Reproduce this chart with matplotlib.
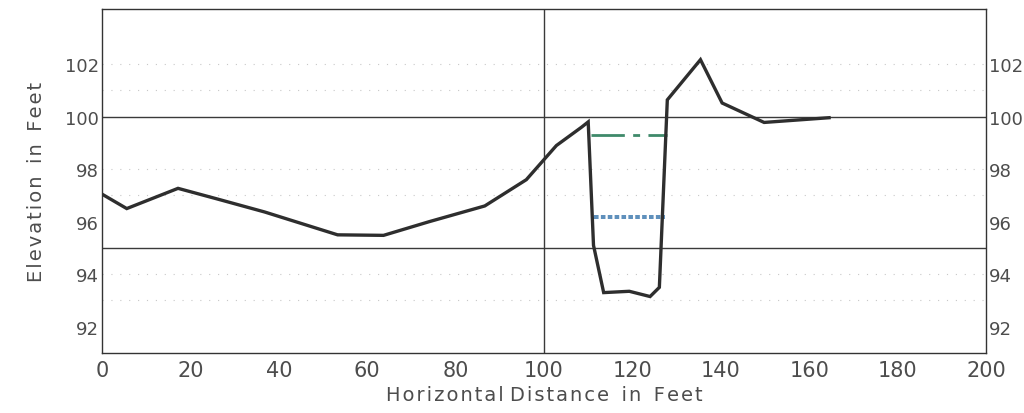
import matplotlib
matplotlib.use("Agg")
import matplotlib.pyplot as plt

# ---------------------------------------------------------------------------
# Data (channel cross-section)
# ---------------------------------------------------------------------------
distance = [0.0, 5.6, 17.2, 26.2, 36.8, 53.3, 63.7, 74.0, 86.6, 96.0,
            102.8, 108.5, 110.0, 111.2, 113.5, 119.3, 124.0, 126.1,
            127.9, 135.4, 140.3, 149.8, 164.5]
elevation = [97.05, 96.5, 97.27, 96.86, 96.37, 95.5, 95.48, 96.0, 96.6,
             97.6, 98.9, 99.6, 99.8, 95.1, 93.3, 93.35, 93.15, 93.5,
             100.64, 102.17, 100.52, 99.78, 99.96]

green_x = [110.7, 127.9]
green_y = 99.29
blue_x = [111.4, 127.3]
blue_y = 96.18

ref_levels = [100, 95]
ref_distance = 100
grid_levels = [93, 94, 97, 98, 101, 102]

xticks = [0, 20, 40, 60, 80, 100, 120, 140, 160, 180, 200]
yticks = [92, 94, 96, 98, 100, 102]

TEXT = "#4d4d4d"
LINE = "#2e2e2e"


def spaced(s):
    """Widen letter spacing with hair spaces, like the scanned lettering."""
    return "\u200a".join(s)


fig = plt.figure(figsize=(10.24, 4.14), dpi=100)
ax = fig.add_axes([102 / 1024, 60 / 414, 884 / 1024, 344 / 414])
ax.set_xlim(0, 200)
ax.set_ylim(91.0, 104.1)

# faint dotted grid
for lv in grid_levels:
    ax.axhline(lv, color="#c8c8c8", lw=0.8, ls=(0, (1, 7)), zorder=1)

# reference lines
for lv in ref_levels:
    ax.axhline(lv, color="#3a3a3a", lw=1.0, zorder=2)
ax.axvline(ref_distance, color="#3a3a3a", lw=1.0, zorder=2)

# ground profile
ax.plot(distance, elevation, color=LINE, lw=2.4, solid_joinstyle="miter", zorder=4)

# water surfaces
ax.plot(green_x, [green_y, green_y], color="#3f8a6a", lw=2.0,
        ls=(0, (12, 3, 2.5, 3)), zorder=3)
ax.plot(blue_x, [blue_y + 0.04, blue_y + 0.04], color="#2f6fa8", lw=1.1,
        ls=(0, (3, 1.5)), zorder=3)
ax.plot(blue_x, [blue_y - 0.04, blue_y - 0.04], color="#2f6fa8", lw=1.1,
        ls=(0, (3, 1.5)), zorder=3)

for s in ax.spines.values():
    s.set_color("#333333")
    s.set_linewidth(1.0)

ax.set_xticks(xticks)
ax.set_yticks(yticks)
ax.tick_params(axis="x", length=0, labelsize=15, labelcolor=TEXT, pad=5)
ax.tick_params(axis="y", length=0, labelsize=13, labelcolor=TEXT, pad=2,
               labelright=True)

ax.set_xlabel(spaced("Horizontal") + " " + spaced("Distance") + "  "
              + spaced("in") + "  " + spaced("Feet"),
              fontsize=14, color=TEXT, labelpad=4)
ax.set_ylabel(spaced("Elevation") + "  " + spaced("in") + "  " + spaced("Feet"),
              fontsize=14, color=TEXT, labelpad=14)

fig.savefig("out.png", dpi=100)
